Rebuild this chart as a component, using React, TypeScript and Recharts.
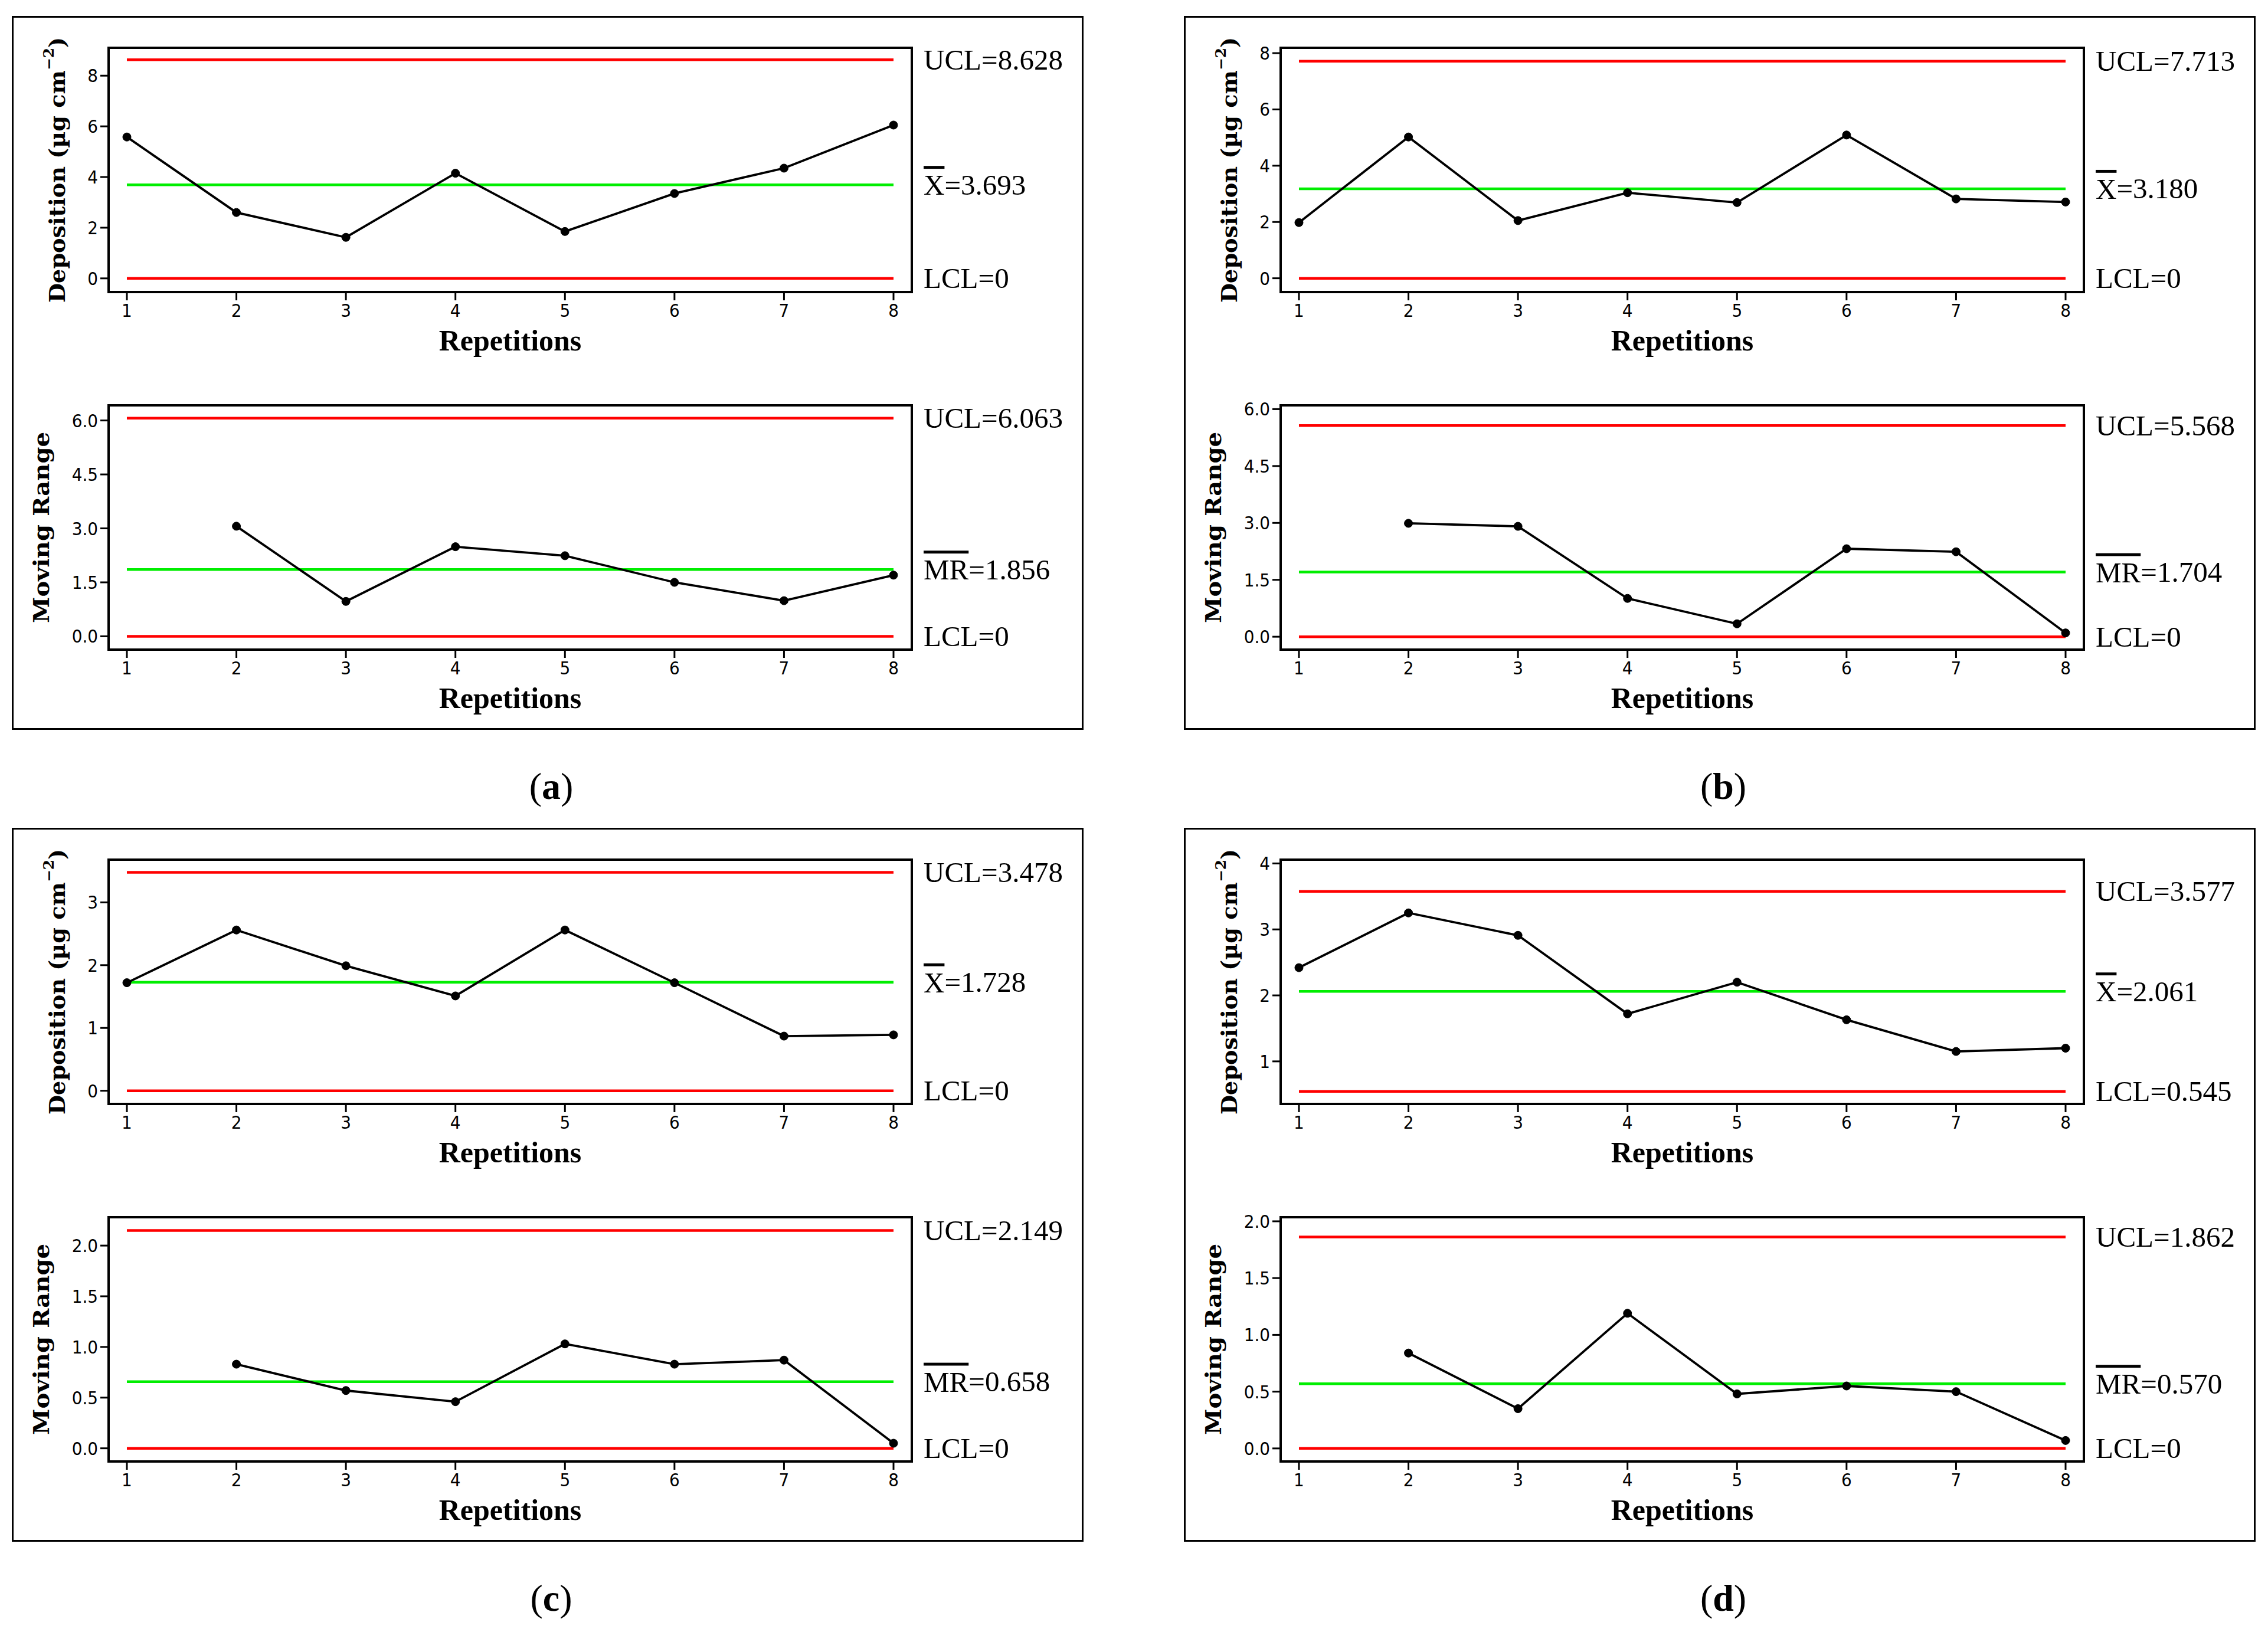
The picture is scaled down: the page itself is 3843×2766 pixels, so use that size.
import { LineChart, Line, XAxis, YAxis, ReferenceLine, ReferenceArea } from "recharts";

// repetitions on the x axis
const reps = [1, 2, 3, 4, 5, 6, 7, 8];

// deposition (µg cm−2) per repetition
const depA = [5.58, 2.6, 1.62, 4.15, 1.85, 3.35, 4.35, 6.05];
const depB = [1.98, 5.02, 2.05, 3.04, 2.69, 5.09, 2.82, 2.71];
const depC = [1.72, 2.56, 1.99, 1.51, 2.56, 1.72, 0.87, 0.89];
const depD = [2.42, 3.25, 2.91, 1.72, 2.2, 1.63, 1.15, 1.2];

// moving ranges (first repetition has none)
const mrA = [null, 3.06, 0.97, 2.49, 2.24, 1.5, 0.99, 1.7];
const mrB = [null, 2.99, 2.91, 1.01, 0.34, 2.32, 2.24, 0.1];
const mrC = [null, 0.83, 0.57, 0.46, 1.03, 0.83, 0.87, 0.05];
const mrD = [null, 0.84, 0.35, 1.19, 0.48, 0.55, 0.5, 0.07];

// control limits: UCL, centre line, LCL
const depLimitsA = [8.628, 3.693, 0];
const depLimitsB = [7.713, 3.18, 0];
const depLimitsC = [3.478, 1.728, 0];
const depLimitsD = [3.577, 2.061, 0.545];
const mrLimitsA = [6.063, 1.856, 0];
const mrLimitsB = [5.568, 1.704, 0];
const mrLimitsC = [2.149, 0.658, 0];
const mrLimitsD = [1.862, 0.57, 0];

// y ticks
const depTicksAB = [0, 2, 4, 6, 8];
const depTicksC = [0, 1, 2, 3];
const depTicksD = [1, 2, 3, 4];
const mrTicksAB = [0, 1.5, 3, 4.5, 6];
const mrTicksCD = [0, 0.5, 1, 1.5, 2];

const captions = ["a", "b", "c", "d"];

const X_DOMAIN: [number, number] = [0.833, 8.167];
const PANEL_W = 1816;
const PANEL_H = 1210;
const CHART_H = 600;

const SERIF = "'Liberation Serif', 'Times New Roman', serif";
const NARROW = "'Liberation Sans Narrow', 'DejaVu Sans Condensed', 'Arial Narrow', sans-serif";

const fmtLimit = (v: number) => (v === 0 ? "0" : v.toFixed(3));

function LimitText({ viewBox, name, value, bar }: any) {
  if (!viewBox) return null;
  const x = viewBox.x + viewBox.width + 51;
  const y = viewBox.y;
  return (
    <text x={x} y={y} dominantBaseline="central" fontFamily={SERIF} fontSize={49} fill="#000">
      {bar ? <tspan style={{ textDecoration: "overline" }}>{name}</tspan> : name}
      {"=" + fmtLimit(value)}
    </text>
  );
}

function ControlChart({
  values,
  limits,
  yDomain,
  yTicks,
  decimals,
  kind,
  top,
}: {
  values: (number | null)[];
  limits: number[];
  yDomain: [number, number];
  yTicks: number[];
  decimals: number;
  kind: "dep" | "mr";
  top: number;
}) {
  const rows = reps.map((r, i) => ({ rep: r, v: values[i] }));
  const [ucl, cl, lcl] = limits;
  const plotTop = kind === "dep" ? 54 : 60;
  const plotBottom = kind === "dep" ? 468 : 474;
  const xAxisH = 60;
  const yAxisW = 60;

  const yTitle = ({ viewBox }: any) => {
    if (!viewBox) return null;
    const cx = viewBox.x - (kind === "dep" ? 27 : 54);
    const cy = viewBox.y + viewBox.height / 2;
    return (
      <text
        x={cx}
        y={cy}
        transform={`rotate(-90, ${cx}, ${cy})`}
        textAnchor="middle"
        dominantBaseline="central"
        fontFamily="'DejaVu Serif', serif"
        fontWeight="bold"
        fontSize={37}
        textLength={kind === "dep" ? 450 : 324}
        lengthAdjust="spacingAndGlyphs"
        fill="#000"
      >
        {kind === "dep" ? (
          <>
            Deposition (µg cm
            <tspan fontSize={24} baselineShift="super">
              −2
            </tspan>
            )
          </>
        ) : (
          "Moving Range"
        )}
      </text>
    );
  };

  const xTitle = ({ viewBox }: any) => {
    if (!viewBox) return null;
    return (
      <text
        x={viewBox.x + viewBox.width / 2}
        y={viewBox.y + 82}
        textAnchor="middle"
        dominantBaseline="central"
        fontFamily={SERIF}
        fontWeight="bold"
        fontSize={50}
        fill="#000"
      >
        Repetitions
      </text>
    );
  };

  const tick = { fontFamily: NARROW, fontSize: 31, fill: "#000" };

  return (
    <div style={{ position: "absolute", left: 0, top, width: PANEL_W, height: CHART_H }}>
      <LineChart
        width={PANEL_W}
        height={CHART_H}
        data={rows}
        margin={{ top: plotTop, right: PANEL_W - 1525, bottom: CHART_H - plotBottom - xAxisH, left: 164 - yAxisW }}
      >
        <XAxis
          dataKey="rep"
          type="number"
          domain={X_DOMAIN}
          ticks={reps}
          interval={0}
          allowDataOverflow
          axisLine={false}
          height={xAxisH}
          tickSize={14}
          tickMargin={6}
          tick={tick}
          tickLine={{ stroke: "#000", strokeWidth: 3 }}
          label={{ content: xTitle }}
        />
        <YAxis
          type="number"
          domain={yDomain}
          ticks={yTicks}
          interval={0}
          allowDataOverflow
          axisLine={false}
          width={yAxisW}
          tickSize={14}
          tickMargin={4}
          tick={tick}
          tickLine={{ stroke: "#000", strokeWidth: 3 }}
          tickFormatter={(v: number) => v.toFixed(decimals)}
          label={{ content: yTitle }}
        />
        <ReferenceArea
          x1={X_DOMAIN[0]}
          x2={X_DOMAIN[1]}
          y1={yDomain[0]}
          y2={yDomain[1]}
          fill="none"
          stroke="#000"
          strokeWidth={4}
          ifOverflow="visible"
        />
        <ReferenceLine
          segment={[{ x: 1, y: ucl }, { x: 8, y: ucl }]}
          stroke="#ff0000"
          strokeWidth={4.5}
          label={{ content: (p: any) => <LimitText {...p} name="UCL" value={ucl} /> }}
        />
        <ReferenceLine
          segment={[{ x: 1, y: cl }, { x: 8, y: cl }]}
          stroke="#00ee00"
          strokeWidth={4.5}
          label={{ content: (p: any) => <LimitText {...p} name={kind === "dep" ? "X" : "MR"} value={cl} bar /> }}
        />
        <ReferenceLine
          segment={[{ x: 1, y: lcl }, { x: 8, y: lcl }]}
          stroke="#ff0000"
          strokeWidth={4.5}
          label={{ content: (p: any) => <LimitText {...p} name="LCL" value={lcl} /> }}
        />
        <Line
          dataKey="v"
          stroke="#000"
          strokeWidth={3.8}
          dot={{ r: 7, fill: "#000", stroke: "#000", strokeWidth: 1 }}
          activeDot={false}
          connectNulls={false}
          isAnimationActive={false}
        />
      </LineChart>
    </div>
  );
}

function Panel({
  left,
  top,
  caption,
  dep,
  mr,
  depLimits,
  mrLimits,
  depDomain,
  mrDomain,
  depTicks,
  mrTicks,
}: any) {
  return (
    <>
      <div
        style={{
          position: "absolute",
          left,
          top,
          width: PANEL_W,
          height: PANEL_H,
          outline: "3px solid #000",
          outlineOffset: -3,
          background: "#fff",
        }}
      >
        <ControlChart values={dep} limits={depLimits} yDomain={depDomain} yTicks={depTicks} decimals={0} kind="dep" top={0} />
        <ControlChart values={mr} limits={mrLimits} yDomain={mrDomain} yTicks={mrTicks} decimals={1} kind="mr" top={CHART_H} />
      </div>
      <div
        style={{
          position: "absolute",
          left: left + 6,
          top: top + PANEL_H + 56,
          width: PANEL_W,
          height: 80,
          lineHeight: "80px",
          textAlign: "center",
          fontFamily: SERIF,
          fontSize: 64,
          color: "#000",
        }}
      >
        (<b>{caption}</b>)
      </div>
    </>
  );
}

export default function App() {
  return (
    <div style={{ position: "absolute", left: 0, top: 0, width: 3843, height: 2766, background: "#fff" }}>
      <Panel
        left={20}
        top={27}
        caption={captions[0]}
        dep={depA}
        mr={mrA}
        depLimits={depLimitsA}
        mrLimits={mrLimitsA}
        depDomain={[-0.54, 9.1]}
        mrDomain={[-0.37, 6.42]}
        depTicks={depTicksAB}
        mrTicks={mrTicksAB}
      />
      <Panel
        left={2006}
        top={27}
        caption={captions[1]}
        dep={depB}
        mr={mrB}
        depLimits={depLimitsB}
        mrLimits={mrLimitsB}
        depDomain={[-0.49, 8.19]}
        mrDomain={[-0.34, 6.1]}
        depTicks={depTicksAB}
        mrTicks={mrTicksAB}
      />
      <Panel
        left={20}
        top={1403}
        caption={captions[2]}
        dep={depC}
        mr={mrC}
        depLimits={depLimitsC}
        mrLimits={mrLimitsC}
        depDomain={[-0.21, 3.68]}
        mrDomain={[-0.13, 2.28]}
        depTicks={depTicksC}
        mrTicks={mrTicksCD}
      />
      <Panel
        left={2006}
        top={1403}
        caption={captions[3]}
        dep={depD}
        mr={mrD}
        depLimits={depLimitsD}
        mrLimits={mrLimitsD}
        depDomain={[0.355, 4.057]}
        mrDomain={[-0.115, 2.036]}
        depTicks={depTicksD}
        mrTicks={mrTicksCD}
      />
    </div>
  );
}
